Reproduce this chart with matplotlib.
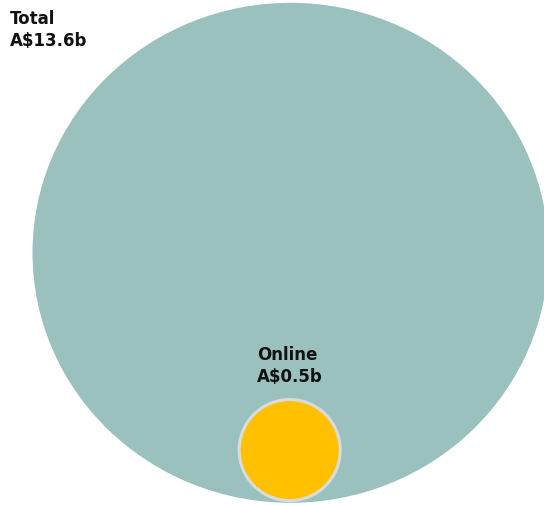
import numpy as np
import matplotlib
matplotlib.use("Agg")
import matplotlib.pyplot as plt
from matplotlib.patches import Ellipse

categories = ["Total", "Online"]
values = [13.6, 0.5]
labels = ["Total\nA$13.6b", "Online\nA$0.5b"]
colors = ["#9BC1BE", "#FFC000"]

W, H = 544, 506
fig = plt.figure(figsize=(W / 100, H / 100), dpi=100)
ax = fig.add_axes([0, 0, 1, 1])
ax.set_xlim(0, W)
ax.set_ylim(H, 0)
ax.axis("off")

# bubble scale: radius proportional to sqrt(value)
R_big = 250.0
k = R_big / np.sqrt(values[0])
radii = [k * np.sqrt(v) for v in values]
stretch_x = 1.032
bottom = 503.8
cx = 290.5

# total bubble
r0 = radii[0]
ax.add_patch(Ellipse((cx, bottom - r0), 2 * r0 * stretch_x, 2 * r0,
                     facecolor=colors[0], edgecolor="none", zorder=1))
# online bubble nested at the bottom
r1 = radii[1] + 2.6
ax.add_patch(Ellipse((cx - 0.8, bottom - r1 - 2.2), 2 * r1, 2 * r1,
                     facecolor=colors[1], edgecolor="#D9DCDC", linewidth=2.2, zorder=2))

ax.text(10, 10, labels[0], ha="left", va="top", fontsize=12, fontweight="bold",
        family="DejaVu Sans", color="#111111", linespacing=1.25)
ax.text(257, 346, labels[1], ha="left", va="top", fontsize=12, fontweight="bold",
        family="DejaVu Sans", color="#111111", linespacing=1.25)

fig.savefig("out.png", dpi=100)
